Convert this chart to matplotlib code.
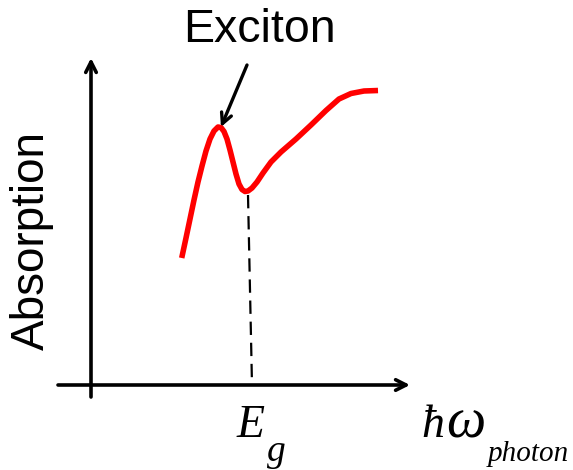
import numpy as np
import matplotlib.pyplot as plt

# absorption spectrum near the band edge (arbitrary units)
energy = [0.907, 0.95, 0.99, 1.03, 1.07, 1.11, 1.15, 1.19, 1.23, 1.27,
          1.30, 1.33, 1.36, 1.39, 1.42, 1.45, 1.48, 1.51, 1.54, 1.57,
          1.61, 1.66, 1.72, 1.80, 1.90, 2.05, 2.20, 2.35, 2.48, 2.60,
          2.73, 2.87]
absorption = [1.27, 1.47, 1.66, 1.85, 2.03, 2.19, 2.34, 2.46, 2.54, 2.58,
              2.575, 2.535, 2.46, 2.35, 2.23, 2.11, 2.01, 1.955, 1.935, 1.94,
              1.97, 2.03, 2.12, 2.23, 2.33, 2.46, 2.60, 2.745, 2.86, 2.915,
              2.94, 2.945]

# band gap marker (drops from the dip down to the energy axis)
eg_x = [1.57, 1.61]
eg_y = [1.90, 0.0]

# exciton peak and where its pointer starts
peak = (1.30, 2.58)
pointer_start = (1.56, 3.20)

fig = plt.figure(figsize=(5.73, 4.70), dpi=100)
ax = fig.add_axes([0, 0, 1, 1])
ax.set_xlim(-0.91, 4.82)
ax.set_ylim(-0.85, 3.85)
ax.axis('off')

axis_arrow = dict(arrowstyle='->,head_length=0.75,head_width=0.38',
                  color='black', lw=2.6, shrinkA=0, shrinkB=0)

# axes
ax.annotate('', xy=(0, 3.27), xytext=(0, -0.12), arrowprops=axis_arrow)
ax.annotate('', xy=(3.19, 0), xytext=(-0.33, 0), arrowprops=axis_arrow)

# spectrum
ax.plot(energy, absorption, color='#ff0000', lw=4.0,
        solid_joinstyle='round', solid_capstyle='butt')

# band gap
ax.plot(eg_x, eg_y, color='black', lw=1.6, ls=(0, (6, 3.5)))

# exciton pointer
ax.annotate('', xy=peak, xytext=pointer_start,
            arrowprops=dict(arrowstyle='->,head_length=0.75,head_width=0.38',
                            color='black', lw=2.4, shrinkA=0, shrinkB=0))

sans = 'Liberation Sans'
serif = 'Liberation Serif'

ax.text(1.68, 3.43, 'Exciton', family=sans, fontsize=33.5,
        ha='center', va='baseline')
ax.text(-0.47, 1.45, 'Absorption', family=sans, fontsize=33,
        rotation=90, rotation_mode='anchor', ha='center', va='baseline')

ax.text(1.46, -0.52, 'E', family=serif, style='italic', fontsize=33,
        va='baseline')
ax.text(1.76, -0.76, 'g', family=serif, style='italic', fontsize=27,
        va='baseline')
ax.text(3.30, -0.52, '\u0127', family=serif, style='italic',
        fontsize=33, va='baseline')
ax.text(3.55, -0.52, '\u03c9', family=serif, style='italic',
        fontsize=40, va='baseline')
ax.text(3.97, -0.76, 'photon', family=serif, style='italic', fontsize=21,
        va='baseline')

fig.savefig('out.png', dpi=100)
